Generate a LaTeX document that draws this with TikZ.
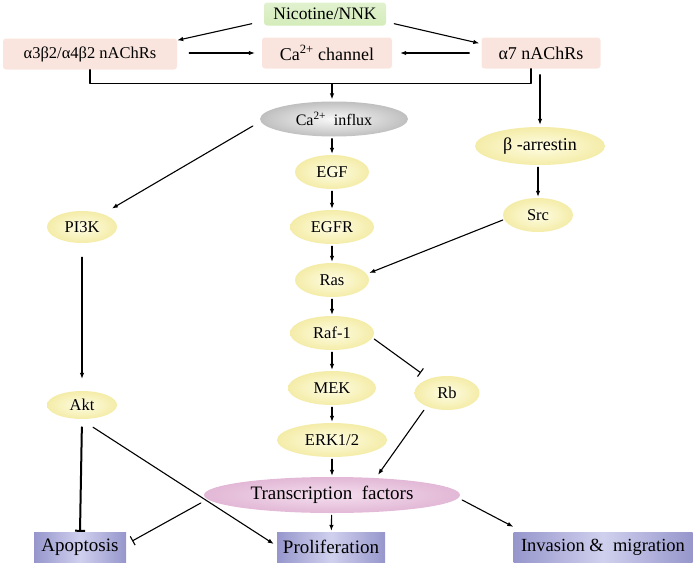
\documentclass[tikz,border=0pt]{standalone}
\usepackage{fontspec}
\setmainfont{Liberation Serif}
\usetikzlibrary{arrows.meta,shapes.geometric}

\definecolor{receptor}{RGB}{250,229,222}
\definecolor{nicgreen}{RGB}{212,236,186}
\definecolor{molin}{RGB}{255,253,228}
\definecolor{molout}{RGB}{244,236,168}
\definecolor{tfin}{RGB}{244,222,238}
\definecolor{tfout}{RGB}{226,184,214}
\definecolor{fateout}{RGB}{150,150,204}
\definecolor{fatein}{RGB}{208,208,238}

\tikzset{
  recbox/.style={rectangle, rounded corners=3pt, fill=receptor, inner sep=0pt,
    minimum height=31pt, font=\fontsize{18}{20}\selectfont},
  mol/.style={ellipse, inner sep=0pt, minimum height=34pt, minimum width=74pt,
    inner color=molin, outer color=molout, font=\fontsize{16.5}{18}\selectfont},
  fate/.style={rectangle, inner sep=0pt, minimum height=30pt,
    left color=fateout, right color=fateout, middle color=fatein,
    font=\rmfamily\fontsize{19}{21}\selectfont},
  act/.style={-{Latex[length=6pt,width=4.5pt]}, line width=1.1pt},
  inh/.style={-{Bar[width=10pt]}, line width=1.1pt},
}

\begin{document}
\begin{tikzpicture}[x=1pt, y=-1pt, line cap=round, line join=round]
\useasboundingbox (0,0) rectangle (693,562);

% receptors
\node[rectangle, rounded corners=3pt, inner sep=0pt, minimum width=122pt, minimum height=23pt,
  top color=nicgreen!70, bottom color=nicgreen, font=\fontsize{17.5}{19}\selectfont] (nic) at (325,14) {Nicotine/NNK};
\node[recbox, minimum width=174pt, font=\fontsize{16.5}{18}\selectfont] (a34) at (90,54) {α3β2/α4β2 nAChRs};
\node[recbox, minimum width=130pt] (cach) at (327,53) {Ca\textsuperscript{2+} channel};
\node[recbox, minimum width=119pt] (a7) at (541,53) {α7 nAChRs};

\draw[act] ([xshift=-12pt,yshift=2pt]nic.south west) -- ([yshift=-2pt]a34.north east);
\draw[act] ([xshift=8pt,yshift=2pt]nic.south east) -- ([xshift=-2pt,yshift=-6pt]a7.north west);
\draw[act] ([xshift=12pt,yshift=1pt]a34.east) -- ([xshift=-7pt]cach.west);
\draw[act] ([xshift=-12pt]a7.west) -- ([xshift=8pt]cach.east);

% Ca influx
\node[ellipse, inner sep=0pt, minimum width=148pt, minimum height=35pt,
  inner color=gray!5, outer color=gray!50, font=\fontsize{16}{18}\selectfont] (influx) at (334,119) {Ca\textsuperscript{2+}\ \ influx};
\draw[line width=1.1pt] (a34.south) -- ++(0,14) -| ([xshift=-10pt]a7.south);
\coordinate (join) at (332,84);
\draw[act] (join) -- ([yshift=2pt]influx.north -| join);

% middle chain
\node[mol] (egf) at (332,172) {EGF};
\node[mol, minimum width=84pt] (egfr) at (332,227) {EGFR};
\node[mol] (ras) at (332,280) {Ras};
\node[mol, minimum width=84pt] (raf) at (332,333) {Raf-1};
\node[mol, minimum width=88pt] (mek) at (332,388) {MEK};
\node[mol, minimum width=110pt] (erk) at (332,440) {ERK1/2};
\node[ellipse, inner sep=0pt, minimum width=256pt, minimum height=36pt,
  inner color=tfin, outer color=tfout, font=\fontsize{19}{21}\selectfont] (tf) at (332,495) {Transcription\ \ factors};

\draw[act, shorten <=2pt, shorten >=1pt] (influx.south -| egf) -- (egf);
\draw[act, shorten <=2pt, shorten >=1pt] (egf) -- (egfr);
\draw[act, shorten <=2pt, shorten >=1pt] (egfr) -- (ras);
\draw[act, shorten <=2pt, shorten >=1pt] (ras) -- (raf);
\draw[act, shorten <=2pt, shorten >=1pt] (raf) -- (mek);
\draw[act, shorten <=2pt, shorten >=1pt] (mek) -- (erk);
\draw[act, shorten <=2pt, shorten >=1pt] (erk) -- (tf);

% right branch
\node[mol, minimum width=130pt, minimum height=38pt, font=\fontsize{18}{20}\selectfont] (barr) at (540,146) {β -arrestin};
\node[mol, minimum width=70pt] (src) at (538,215) {Src};
\node[mol, minimum width=65pt] (rb) at (447,393) {Rb};
\draw[act] ([yshift=-6pt]a7.south -| barr) -- ([yshift=2pt]barr.north);
\draw[act, shorten <=2pt, shorten >=1pt] (barr.south -| src) -- (src);
\draw[act] ([yshift=-5pt]src.west) -- ([yshift=7pt]ras.east);
\draw[inh] ([yshift=-6pt]raf.east) -- ([xshift=-3pt,yshift=8pt]rb.north west);
\draw[act] ([yshift=-5pt]rb.south west) -- ([xshift=46pt,yshift=2pt]tf.north);

% left branch
\node[mol, minimum width=70pt, minimum height=32pt] (pik) at (82,227) {PI3K};
\node[mol, minimum width=70pt, minimum height=28pt] (akt) at (82,405) {Akt};
\draw[act] ([xshift=-7pt,yshift=-7pt]influx.west) -- ([xshift=5pt,yshift=7pt]pik.north east);
\draw[act, shorten <=14pt, shorten >=12pt] (pik) -- (akt);

% outcomes
\node[fate, minimum width=92pt] (apop) at (80,547) {Apoptosis};
\node[fate, minimum width=108pt] (prolif) at (331,547) {Proliferation};
\node[fate, minimum width=179pt, font=\rmfamily\fontsize{18.5}{20}\selectfont] (inv) at (603,547) {Invasion \&\ \ migration};

\draw[-{Bar[width=10pt]}, line width=2pt, shorten <=8pt] (akt.south) -- (apop.north);
\draw[act] ([xshift=11pt,yshift=-8pt]akt.south) -- ([xshift=-3pt,yshift=3pt]prolif.west);
\draw[inh] ([xshift=-3pt,yshift=-8pt]tf.west) -- ([xshift=6pt,yshift=6pt]apop.east);
\draw[act, shorten <=2pt, shorten >=1pt] (tf) -- (prolif);
\draw[act] ([xshift=2pt,yshift=-5pt]tf.east) -- ([yshift=5pt]inv.north west);
\end{tikzpicture}
\end{document}
